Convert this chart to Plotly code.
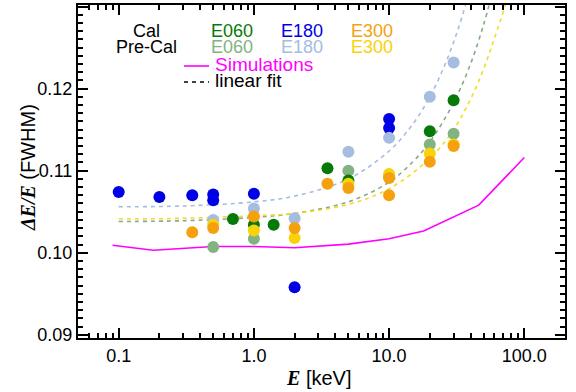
import math
import plotly.graph_objects as go

# ---------------- data ----------------
cal_e060_E = [0.7, 1.0, 1.4, 3.5, 5.0, 20.0, 30.0]
cal_e060_v = [0.1041, 0.1034, 0.1034, 0.1103, 0.1088, 0.1148, 0.1186]

pre_e060_E = [0.5, 1.0, 5.0, 10.0, 20.0, 30.0]
pre_e060_v = [0.1007, 0.1017, 0.1100, 0.1093, 0.1132, 0.1145]

cal_e180_E = [0.1, 0.2, 0.35, 0.5, 0.5, 1.0, 2.0, 10.0, 10.0]
cal_e180_v = [0.1074, 0.1068, 0.1070, 0.1071, 0.1064, 0.1072, 0.0958, 0.1163, 0.1152]

pre_e180_E = [0.5, 1.0, 2.0, 5.0, 10.0, 20.0, 30.0]
pre_e180_v = [0.1040, 0.1054, 0.1042, 0.1123, 0.1140, 0.1190, 0.1232]

cal_e300_E = [0.35, 0.5, 1.0, 2.0, 3.5, 5.0, 10.0, 10.0, 20.0, 30.0]
cal_e300_v = [0.1025, 0.1030, 0.1044, 0.1030, 0.1084, 0.1079, 0.1091, 0.1070, 0.1111, 0.1130]

pre_e300_E = [0.5, 1.0, 2.0, 5.0, 10.0, 20.0, 30.0]
pre_e300_v = [0.1034, 0.1027, 0.1018, 0.1084, 0.1096, 0.1121, 0.1132]

sim_E = [0.09, 0.18, 0.5, 1.0, 2.0, 5.0, 10.0, 18.0, 46.0, 100.0]
sim_v = [0.1009, 0.1003, 0.10075, 0.10075, 0.1006, 0.10105, 0.1017, 0.10265, 0.1058, 0.1116]

fit_e180_E = [0.1, 0.3, 1.0, 2.0, 5.0, 10.0, 15.0, 20.0, 26.0, 32.0, 38.0]
fit_e180_v = [0.1056, 0.1057, 0.1062, 0.1069, 0.1090, 0.1124, 0.1157, 0.1190, 0.1230, 0.1270, 0.1310]

fit_e060_E = [0.1, 0.3, 1.0, 2.0, 5.0, 10.0, 15.0, 20.0, 30.0, 40.0, 50.0, 57.0]
fit_e060_v = [0.1038, 0.1039, 0.1043, 0.1048, 0.1062, 0.1086, 0.1111, 0.1135, 0.1183, 0.1230, 0.1278, 0.1312]

fit_e300_E = [0.1, 0.3, 1.0, 2.0, 5.0, 10.0, 20.0, 30.0, 40.0, 50.0, 60.0, 76.0]
fit_e300_v = [0.1041, 0.1042, 0.1045, 0.1048, 0.1059, 0.1078, 0.1115, 0.1150, 0.1187, 0.1224, 0.1261, 0.1312]

x_range_keV = [0.05, 200.0]
y_range = [0.0896, 0.1302]

# ---------------- styles ----------------
C_CAL060 = "#067a06"
C_PRE060 = "#82b482"
C_CAL180 = "#0000e6"
C_PRE180 = "#a6bce0"
C_CAL300 = "#f5a00f"
C_PRE300 = "#f8d20a"
C_SIM = "#ff00ff"
FONT = "Liberation Sans, Arial, sans-serif"

fig = go.Figure()

# fit lines
for E, v, c in [(fit_e180_E, fit_e180_v, C_PRE180),
                (fit_e060_E, fit_e060_v, "#88a888"),
                (fit_e300_E, fit_e300_v, "#f2dc28")]:
    fig.add_trace(go.Scatter(x=E, y=v, mode="lines", line=dict(color=c, width=1.6, dash="4px,4px", shape="spline"),
                             showlegend=False, hoverinfo="skip"))

# simulations
fig.add_trace(go.Scatter(x=sim_E, y=sim_v, mode="lines", line=dict(color=C_SIM, width=1.6), showlegend=False))

# markers
for E, v, c in [(cal_e180_E, cal_e180_v, C_CAL180),
                (pre_e180_E, pre_e180_v, C_PRE180),
                (pre_e060_E, pre_e060_v, C_PRE060),
                (cal_e060_E, cal_e060_v, C_CAL060),
                (pre_e300_E, pre_e300_v, C_PRE300),
                (cal_e300_E, cal_e300_v, C_CAL300)]:
    fig.add_trace(go.Scatter(x=E, y=v, mode="markers",
                             marker=dict(color=c, size=12, line=dict(width=0)), showlegend=False))

L, R, T, B = 78, 11, 5, 54
W, H = 576, 392
pw, ph = W - L - R, H - T - B


def px(x):
    return (x - L) / pw


def py(y):
    return (H - B - y) / ph


annotations = []


def txt(text, x, y, color="black", xanchor="left", size=18):
    annotations.append(dict(text=text, x=px(x), y=py(y), xref="paper", yref="paper", showarrow=False,
                            xanchor=xanchor, yanchor="middle", font=dict(family=FONT, size=size, color=color)))


txt("Cal", 146, 31, xanchor="center")
txt("Pre-Cal", 146, 47, xanchor="center")
txt("E060", 209, 31, C_CAL060)
txt("E060", 209, 47, C_PRE060)
txt("E180", 279, 31, C_CAL180)
txt("E180", 279, 47, C_PRE180)
txt("E300", 349, 31, C_CAL300)
txt("E300", 349, 47, C_PRE300)
txt("Simulations", 213, 64, C_SIM, size=19)
txt("linear fit", 213, 81, size=19)

shapes = [
    dict(type="line", xref="paper", yref="paper", x0=px(184), x1=px(209), y0=py(66), y1=py(66),
         line=dict(color=C_SIM, width=1.6)),
    dict(type="line", xref="paper", yref="paper", x0=px(184), x1=px(209), y0=py(82), y1=py(82),
         line=dict(color="black", width=1.4, dash="4px,4px")),
]

# axis titles
annotations.append(dict(text="<span style=\"font-family:'Liberation Serif'\"><b><i>E</i></b></span> [keV]",
                        x=px(318), y=py(378), xref="paper", yref="paper", showarrow=False,
                        xanchor="center", yanchor="middle", font=dict(family=FONT, size=20, color="black")))
annotations.append(dict(text="<span style=\"font-family:'Liberation Serif'\"><b><i>ΔE/E</i></b></span> (FWHM)",
                        x=px(28), y=py(168), xref="paper", yref="paper", showarrow=False, textangle=-90,
                        xanchor="center", yanchor="middle", font=dict(family=FONT, size=20, color="black")))

axis_common = dict(ticks="inside", ticklen=10, tickwidth=2, tickcolor="black",
                   showline=True, linecolor="black", linewidth=2, mirror="ticks",
                   showgrid=False, zeroline=False, automargin=False,
                   tickfont=dict(family=FONT, size=18))

fig.update_layout(
    width=W, height=H, margin=dict(l=L, r=R, t=T, b=B),
    plot_bgcolor="white", paper_bgcolor="white",
    font=dict(family=FONT, size=18, color="black"),
    annotations=annotations, shapes=shapes, showlegend=False,
    xaxis=dict(type="log", range=[math.log10(x_range_keV[0]), math.log10(x_range_keV[1])],
               tickmode="linear", tick0=0, dtick=1, tickformat=".1f",
               minor=dict(ticks="inside", ticklen=5, tickwidth=1.5, tickcolor="black", dtick="D1", showgrid=False),
               **axis_common),
    yaxis=dict(range=y_range, tickmode="linear", tick0=0, dtick=0.01, tickformat=".2f",
               minor=dict(ticks="inside", ticklen=5, tickwidth=1.5, tickcolor="black", dtick=0.001, showgrid=False),
               **axis_common),
)

fig.write_html("out.html", config={"displayModeBar": False},
               post_script="document.body.style.margin='0';document.body.style.padding='0';")
